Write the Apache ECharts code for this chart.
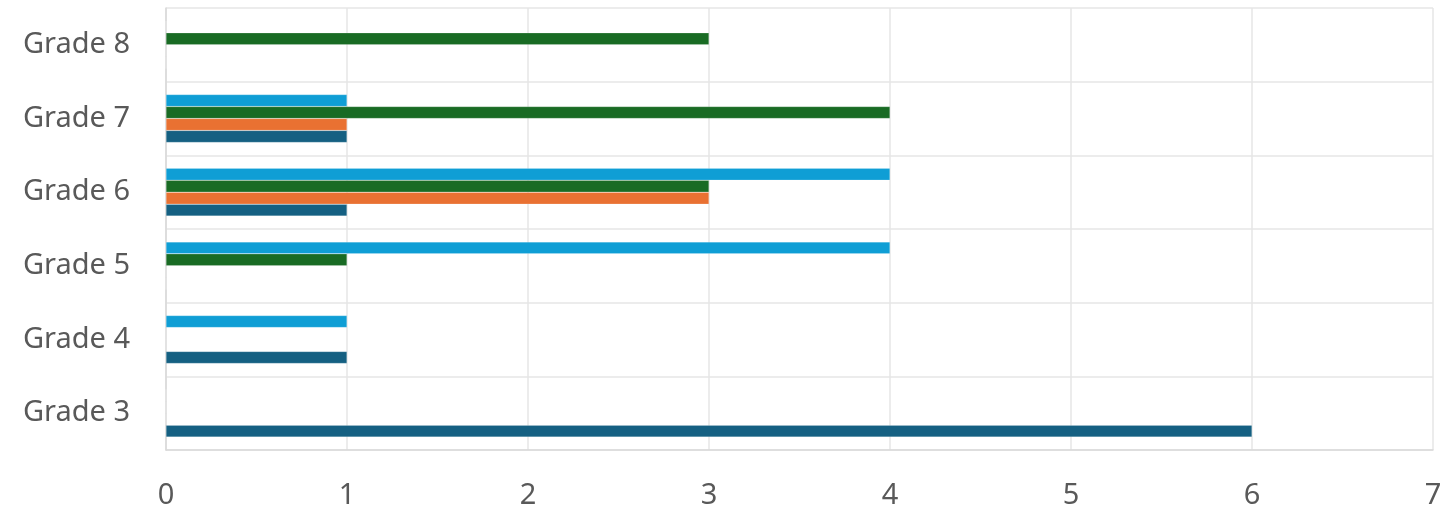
<!DOCTYPE html>
<html>
<head>
<meta charset="utf-8">
<script src="https://cdn.jsdelivr.net/npm/echarts@6/dist/echarts.min.js"></script>
<style>
html,body{margin:0;padding:0;background:#fff;}
#chart{width:1446px;height:516px;}
</style>
</head>
<body>
<div id="chart"></div>
<script>
const categories = ["Grade 3", "Grade 4", "Grade 5", "Grade 6", "Grade 7", "Grade 8"];
const series1 = [6, 1, 0, 1, 1, 0];
const series2 = [0, 0, 0, 3, 1, 0];
const series3 = [0, 0, 1, 3, 4, 3];
const series4 = [0, 1, 4, 4, 1, 0];
const seriesNames = ["Series 1", "Series 2", "Series 3", "Series 4"];
const xTicks = [0, 1, 2, 3, 4, 5, 6, 7];

const colors = ["#156082", "#E97132", "#196B24", "#0F9ED5"];
const chart = echarts.init(document.getElementById('chart'));
const font = "'Noto Sans', 'Open Sans', sans-serif";
const mk = (name, data, color) => ({
  name, type: 'bar', data,
  itemStyle: { color, borderColor: 'rgba(255,255,255,0.35)', borderWidth: 0.5 },
  barGap: '0%', barCategoryGap: '35%'
});
chart.setOption({
  animation: false,
  grid: { left: 166, right: 13, top: 8, bottom: 66, containLabel: false },
  xAxis: {
    type: 'value', min: xTicks[0], max: xTicks[xTicks.length - 1], interval: 1,
    axisLine: { show: true, lineStyle: { color: '#d9d9d9', width: 1.5 } },
    axisTick: { show: false },
    splitLine: { show: true, lineStyle: { color: '#e6e6e6', width: 1.5 } },
    axisLabel: { color: '#595959', fontSize: 29, fontFamily: font, margin: 31 }
  },
  yAxis: {
    type: 'category', data: categories,
    axisLine: { show: true, lineStyle: { color: '#d9d9d9', width: 1.5 } },
    axisTick: { show: false },
    splitLine: { show: true, lineStyle: { color: '#e6e6e6', width: 1.5 } },
    axisLabel: { color: '#595959', fontSize: 29, fontFamily: font, margin: 36, padding: [4, 0, 0, 0] }
  },
  // series listed top-to-bottom within each band
  series: [
    mk(seriesNames[3], series4, colors[3]),
    mk(seriesNames[2], series3, colors[2]),
    mk(seriesNames[1], series2, colors[1]),
    mk(seriesNames[0], series1, colors[0])
  ]
});
</script>
</body>
</html>
